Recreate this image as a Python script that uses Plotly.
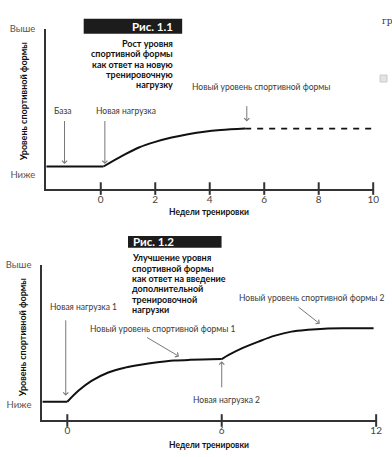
import plotly.graph_objects as go

W, H = 392, 457

# ---------------- data ----------------
# Fig 1.1
top_base_weeks = [-2, 0.1]
top_base_level = [1.38, 1.38]
top_rise_weeks = [0.1, 0.8, 1.4, 2.0, 2.6, 3.2, 3.8, 4.4, 5.3]
top_rise_level = [1.38, 2.06, 2.57, 2.92, 3.19, 3.40, 3.56, 3.66, 3.75]
top_future_weeks = [5.3, 10]
top_future_level = [3.75, 3.75]
top_xticks = [0, 2, 4, 6, 8, 10]

# Fig 1.2
bot_base_weeks = [-0.97, 0]
bot_base_level = [1.2, 1.2]
bot_rise1_weeks = [0, 0.44, 0.94, 1.59, 2.24, 2.85, 3.5, 4.15, 4.77, 6.0]
bot_rise1_level = [1.2, 1.92, 2.54, 3.08, 3.39, 3.58, 3.73, 3.84, 3.89, 3.94]
bot_rise2_weeks = [6.0, 6.29, 6.8, 7.43, 8.07, 8.71, 9.35, 9.99, 10.88, 11.9]
bot_rise2_level = [3.94, 4.22, 4.64, 5.06, 5.44, 5.70, 5.82, 5.89, 5.91, 5.91]
bot_xticks = [0, 6, 12]

y_tick_text = ["Ниже", "Выше"]
top_y_tickvals = [0.86, 10]
bot_y_tickvals = [1.0, 10]

x_title = "Недели тренировки"
y_title = "Уровень спортивной формы"
top_fig_label = "Рис. 1.1"
bot_fig_label = "Рис. 1.2"
top_caption = ["Рост уровня", "спортивной формы", "как ответ на новую",
               "тренировочную", "нагрузку"]
bot_caption = ["Улучшение уровня", "спортивной формы", "как ответ на введение",
               "дополнительной", "тренировочной", "нагрузки"]

# ---------------- styling ----------------
FONT = "Lato, Roboto, sans-serif"
CURVE = "#111111"
AXIS = "#333333"
ARROW = "#777777"
TXT = "#3a3a3a"


def px(x):
    return x / W


def py(y):
    return 1 - y / H


fig = go.Figure()

fig.add_trace(go.Scatter(x=top_base_weeks, y=top_base_level, mode="lines",
                         line=dict(color=CURVE, width=2), xaxis="x", yaxis="y"))
fig.add_trace(go.Scatter(x=top_rise_weeks, y=top_rise_level, mode="lines",
                         line=dict(color=CURVE, width=2, shape="spline"),
                         xaxis="x", yaxis="y"))
fig.add_trace(go.Scatter(x=top_future_weeks, y=top_future_level, mode="lines",
                         line=dict(color=CURVE, width=1.6, dash="6px,6px"),
                         xaxis="x", yaxis="y"))
fig.add_trace(go.Scatter(x=bot_base_weeks, y=bot_base_level, mode="lines",
                         line=dict(color=CURVE, width=2), xaxis="x2", yaxis="y2"))
fig.add_trace(go.Scatter(x=bot_rise1_weeks, y=bot_rise1_level, mode="lines",
                         line=dict(color=CURVE, width=2, shape="spline"),
                         xaxis="x2", yaxis="y2"))
fig.add_trace(go.Scatter(x=bot_rise2_weeks, y=bot_rise2_level, mode="lines",
                         line=dict(color=CURVE, width=2, shape="spline"),
                         xaxis="x2", yaxis="y2"))

# crossing tick marks
fig.add_trace(go.Scatter(x=top_xticks, y=[0] * len(top_xticks), mode="markers",
                         marker=dict(symbol="line-ns", size=9,
                                     line=dict(color=AXIS, width=2)),
                         cliponaxis=False, xaxis="x", yaxis="y"))
fig.add_trace(go.Scatter(x=bot_xticks, y=[0] * len(bot_xticks), mode="markers",
                         marker=dict(symbol="line-ns", size=9,
                                     line=dict(color=AXIS, width=2)),
                         cliponaxis=False, xaxis="x2", yaxis="y2"))

xcommon = dict(showline=True, linecolor=AXIS, linewidth=2, showgrid=False,
               zeroline=False, ticks="", ticklabelstandoff=0,
               tickfont=dict(family=FONT, size=10, color="#444"))
ycommon = dict(showline=True, linecolor=AXIS, linewidth=2, showgrid=False,
               zeroline=False, ticks="", ticklabelstandoff=7, range=[0, 10],
               ticktext=y_tick_text,
               tickfont=dict(family=FONT, size=9.5, color="#555"))

fig.update_layout(
    width=W, height=H,
    margin=dict(l=0, r=0, t=0, b=0),
    paper_bgcolor="white", plot_bgcolor="white",
    showlegend=False,
    xaxis=dict(domain=[px(47), px(379)], range=[-2, 10], anchor="y",
               tickvals=top_xticks, **xcommon),
    yaxis=dict(domain=[py(185), py(23)], anchor="x", tickvals=top_y_tickvals,
               **ycommon),
    xaxis2=dict(domain=[px(43), px(382)], range=[-0.97, 12], anchor="y2",
                tickvals=bot_xticks, **xcommon),
    yaxis2=dict(domain=[py(420), py(262)], anchor="x2", tickvals=bot_y_tickvals,
                **ycommon),
)

ann = []


def label(text, x, y, xref, yref, size=8.5, color=TXT, xanchor="center",
          bold=False, **kw):
    ann.append(dict(text=text, x=x, y=y, xref=xref, yref=yref, showarrow=False,
                    xanchor=xanchor, yanchor="middle",
                    font=dict(family=FONT, size=size, color=color,
                              weight="bold" if bold else "normal"), **kw))


def arrow(x, y, ax, ay, xr, yr):
    ann.append(dict(text="", x=x, y=y, ax=ax, ay=ay, xref=xr, yref=yr,
                    axref=xr, ayref=yr, showarrow=True, arrowhead=4,
                    arrowsize=1, arrowwidth=1, arrowcolor=ARROW))


# ---- top chart annotations ----
label("База", -1.40, 4.88, "x", "y")
arrow(-1.33, 1.54, -1.33, 4.32, "x", "y")
label("Новая нагрузка", -0.24, 4.88, "x", "y", xanchor="left")
arrow(0.15, 1.54, 0.15, 4.32, "x", "y")
label("Новый уровень спортивной формы", 5.87, 6.36, "x", "y")
arrow(5.36, 4.2, 5.36, 5.25, "x", "y")

# ---- bottom chart annotations ----
label("Новая нагрузка 1", -0.74, 7.28, "x2", "y2", xanchor="left")
arrow(-0.06, 1.58, -0.06, 6.52, "x2", "y2")
label("Новый уровень спортивной формы 1", 3.70, 5.89, "x2", "y2")
arrow(4.34, 4.11, 3.04, 5.38, "x2", "y2")
label("Новая нагрузка 2", 6.17, 1.33, "x2", "y2")
arrow(6.0, 3.80, 6.0, 2.03, "x2", "y2")
label("Новый уровень спортивной формы 2", 9.5, 7.85, "x2", "y2")
arrow(9.81, 6.20, 8.93, 7.34, "x2", "y2")

# ---- axis titles ----
for cx, cy in [(px(212), py(209)), (px(212), py(445))]:
    label(x_title, cx, cy, "paper", "paper", size=8.5, color="#111", bold=True)
for cx, cy in [(px(24), py(97)), (px(23), py(336))]:
    label(y_title, cx, cy, "paper", "paper", size=9, color="#111", bold=True,
          textangle=-90)

# ---- figure labels and captions ----
shapes = [
    dict(type="rect", xref="paper", yref="paper", x0=px(85), x1=px(185),
         y0=py(28), y1=py(13), fillcolor="#1c1c1c", line=dict(width=0)),
    dict(type="rect", xref="paper", yref="paper", x0=px(130), x1=px(225),
         y0=py(245), y1=py(233), fillcolor="#1c1c1c", line=dict(width=0)),
    dict(type="rect", xref="paper", yref="paper", x0=px(386), x1=px(393),
         y0=py(77), y1=py(70), fillcolor="#e4e4e4",
         line=dict(color="#c8c8c8", width=1)),
]
label(top_fig_label, px(178), py(20.5), "paper", "paper", size=11.5, color="white",
      bold=True, xanchor="right")
label(bot_fig_label, px(133), py(239), "paper", "paper", size=11.5, color="white",
      bold=True, xanchor="left")
for i, line in enumerate(top_caption):
    label(line, px(178), py(38 + i * 10.5), "paper", "paper", size=9, color="#111",
          bold=True, xanchor="right")
for i, line in enumerate(bot_caption):
    label(line, px(132), py(255 + i * 10.5), "paper", "paper", size=9, color="#111",
          bold=True, xanchor="left")
ann.append(dict(text="гр", x=px(386), y=py(15), xref="paper", yref="paper",
                showarrow=False, xanchor="left", yanchor="middle",
                font=dict(family="DejaVu Serif, serif", size=9, color="#333")))

fig.update_layout(annotations=ann, shapes=shapes)
fig.write_html("out.html", config={"displayModeBar": False},
               post_script="document.body.style.margin='0';")
